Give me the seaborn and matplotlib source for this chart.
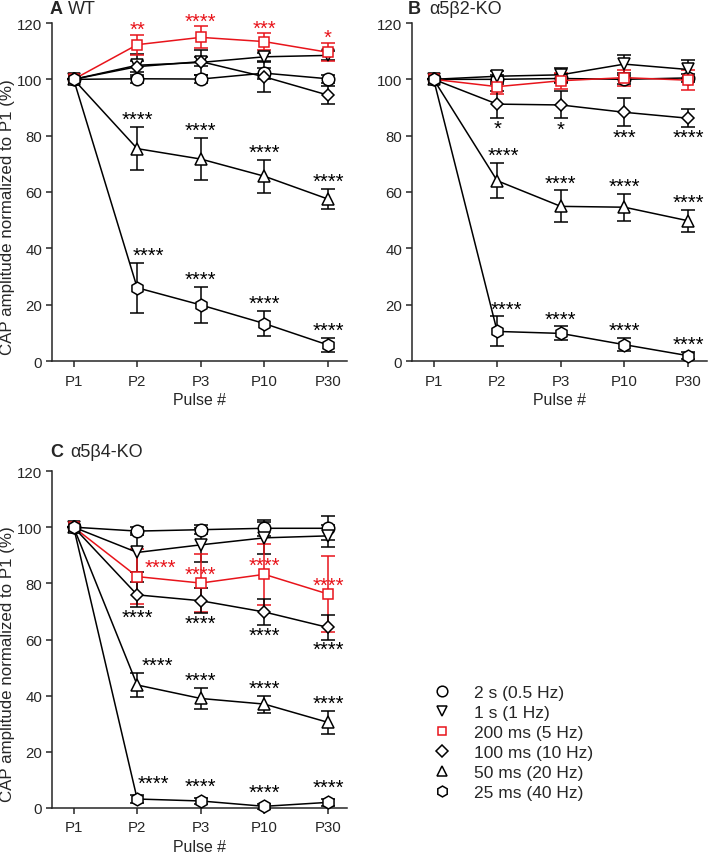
import numpy as np
import pandas as pd
import seaborn as sns
import matplotlib
matplotlib.use("Agg")
import matplotlib.pyplot as plt
from matplotlib.lines import Line2D

# ---------------- data ----------------
pulses = ["P1", "P2", "P3", "P10", "P30"]
series_labels = ["2 s (0.5 Hz)", "1 s (1 Hz)", "200 ms (5 Hz)",
                 "100 ms (10 Hz)", "50 ms (20 Hz)", "25 ms (40 Hz)"]

# Panel A: WT
wt_2s = [100, 100.2, 100.1, 102.2, 100.2]
wt_2s_err = [0, 1.5, 1.5, 2.0, 1.5]
wt_1s = [100, 105.0, 106.0, 108.0, 108.5]
wt_1s_err = [0, 4.0, 4.5, 1.5, 1.5]
wt_200ms = [100, 112.3, 114.9, 113.4, 109.6]
wt_200ms_err = [0, 3.5, 3.9, 2.9, 3.2]
wt_100ms = [100, 104.5, 106.3, 100.9, 94.4]
wt_100ms_err = [0, 2.0, 1.5, 5.3, 3.3]
wt_50ms = [100, 75.4, 71.7, 65.6, 57.5]
wt_50ms_err = [0, 7.6, 7.4, 5.8, 3.6]
wt_25ms = [100, 26.0, 19.9, 13.3, 5.7]
wt_25ms_err = [0, 8.8, 6.5, 4.5, 2.5]

# Panel B: a5b2-KO
b2_2s = [100, 100.0, 100.3, 100.0, 100.5]
b2_2s_err = [0, 1.5, 1.5, 1.5, 1.5]
b2_1s = [100, 101.1, 101.6, 105.4, 103.5]
b2_1s_err = [0, 2.0, 2.5, 3.2, 3.5]
b2_200ms = [100, 97.4, 99.5, 100.6, 99.7]
b2_200ms_err = [0, 2.5, 2.8, 2.8, 3.5]
b2_100ms = [100, 91.2, 90.9, 88.3, 86.2]
b2_100ms_err = [0, 4.8, 4.8, 5.0, 3.2]
b2_50ms = [100, 64.0, 54.9, 54.6, 49.8]
b2_50ms_err = [0, 6.3, 5.7, 4.8, 3.9]
b2_25ms = [100, 10.5, 9.8, 5.8, 1.9]
b2_25ms_err = [0, 5.3, 2.5, 2.3, 1.3]

# Panel C: a5b4-KO
b4_2s = [100, 98.6, 99.1, 99.6, 99.6]
b4_2s_err = [0, 1.4, 1.5, 2.8, 4.3]
b4_1s = [100, 91.0, 93.7, 96.2, 96.9]
b4_1s_err = [0, 7.0, 6.1, 5.7, 4.0]
b4_200ms = [100, 82.4, 80.1, 83.2, 76.2]
b4_200ms_err = [0, 9.7, 10.4, 10.8, 13.4]
b4_100ms = [100, 75.9, 73.8, 69.8, 64.3]
b4_100ms_err = [0, 4.5, 4.5, 4.6, 4.3]
b4_50ms = [100, 43.8, 39.0, 37.0, 30.5]
b4_50ms_err = [0, 4.2, 3.7, 3.0, 4.0]
b4_25ms = [100, 3.2, 2.5, 0.6, 2.0]
b4_25ms_err = [0, 1.5, 1.2, 0.8, 1.2]

# significance labels for P2, P3, P10, P30
wt_stars_200ms = ["**", "****", "***", "*"]
wt_stars_50ms = ["****", "****", "****", "****"]
wt_stars_25ms = ["****", "****", "****", "****"]
b2_stars_100ms = ["*", "*", "***", "****"]
b2_stars_50ms = ["****", "****", "****", "****"]
b2_stars_25ms = ["****", "****", "****", "****"]
b4_stars_200ms = ["****", "****", "****", "****"]
b4_stars_100ms = ["****", "****", "****", "****"]
b4_stars_50ms = ["****", "****", "****", "****"]
b4_stars_25ms = ["****", "****", "****", "****"]

# ---------------- style ----------------
sns.set_theme(style="ticks")
plt.rcParams["font.family"] = ["Liberation Sans", "DejaVu Sans"]
plt.rcParams["axes.linewidth"] = 1.1

RED = "#e8141b"
colors = ["black", "black", RED, "black", "black", "black"]
markers = ["o", "v", "s", "D", "^", "h"]
msizes = [9.0, 8.6, 7.6, 6.6, 8.6, 9.2]

W, H = 709, 854
fig = plt.figure(figsize=(W / 100, H / 100), dpi=100)


def add_ax(left, top, right, bottom):
    return fig.add_axes([left / W, 1 - bottom / H, (right - left) / W, (bottom - top) / H])


axA = add_ax(52, 24, 347, 362)
axB = add_ax(412, 24, 707, 362)
axC = add_ax(52, 472, 347, 809)

xpos = np.arange(len(pulses))
TICK_FS = 10.8


def draw_panel(ax, vals, errs):
    for i, (v, e) in enumerate(zip(vals, errs)):
        col = colors[i]
        ax.errorbar(xpos, v, yerr=e, fmt="none", ecolor=col, elinewidth=1.1,
                    capsize=4.8, capthick=1.1, zorder=2 + i * 0.01, clip_on=False)
        df = pd.DataFrame({"x": xpos, "y": v})
        sns.lineplot(data=df, x="x", y="y", ax=ax, color=col, marker=markers[i],
                     markersize=msizes[i], markerfacecolor="white",
                     markeredgecolor=col, markeredgewidth=1.1, linewidth=1.1,
                     zorder=3 + i * 0.01, clip_on=False, legend=False)
    ax.set_xlim(-0.34, 4.3)
    ax.set_ylim(0, 120)
    ax.set_xticks(xpos)
    ax.set_xticklabels(pulses, fontsize=TICK_FS)
    ax.set_yticks(np.arange(0, 121, 20))
    ax.tick_params(axis="y", labelsize=TICK_FS, length=4, width=1.1, pad=3, direction="out")
    ax.tick_params(axis="x", labelsize=TICK_FS, length=4, width=1.1, pad=5, direction="out")
    ax.set_xlabel("Pulse #", fontsize=11.4, labelpad=3)
    ax.set_ylabel("")
    sns.despine(ax=ax)


def stars(ax, vals, errs, labels, color="black", side="above", dx=None, off=3.0):
    for k, lab in enumerate(labels):
        j = k + 1
        shift = 0 if dx is None else dx[k]
        if side == "above":
            yc = vals[j] + errs[j] + off
        elif side == "below":
            yc = vals[j] - errs[j] - off
        else:  # near marker
            yc = vals[j] + off
        ax.text(xpos[j] + shift, yc - 2.3, lab, ha="center", va="baseline",
                fontsize=14.5, color=color, zorder=6)


draw_panel(axA, [wt_2s, wt_1s, wt_200ms, wt_100ms, wt_50ms, wt_25ms],
           [wt_2s_err, wt_1s_err, wt_200ms_err, wt_100ms_err, wt_50ms_err, wt_25ms_err])
stars(axA, wt_200ms, wt_200ms_err, wt_stars_200ms, color=RED, off=2.3)
stars(axA, wt_50ms, wt_50ms_err, wt_stars_50ms)
stars(axA, wt_25ms, wt_25ms_err, wt_stars_25ms, dx=[0.18, 0, 0, 0])

draw_panel(axB, [b2_2s, b2_1s, b2_200ms, b2_100ms, b2_50ms, b2_25ms],
           [b2_2s_err, b2_1s_err, b2_200ms_err, b2_100ms_err, b2_50ms_err, b2_25ms_err])
stars(axB, b2_100ms, b2_100ms_err, b2_stars_100ms, side="below", off=3.4)
stars(axB, b2_50ms, b2_50ms_err, b2_stars_50ms, dx=[0.1, 0, 0, 0])
stars(axB, b2_25ms, b2_25ms_err, b2_stars_25ms, dx=[0.15, 0, 0, 0])

draw_panel(axC, [b4_2s, b4_1s, b4_200ms, b4_100ms, b4_50ms, b4_25ms],
           [b4_2s_err, b4_1s_err, b4_200ms_err, b4_100ms_err, b4_50ms_err, b4_25ms_err])
stars(axC, b4_200ms, b4_200ms_err, b4_stars_200ms, color=RED, side="marker",
      dx=[0.37, 0, 0, 0], off=3.6)
stars(axC, b4_100ms, b4_100ms_err, b4_stars_100ms, side="below", off=3.3)
stars(axC, b4_50ms, b4_50ms_err, b4_stars_50ms, dx=[0.32, 0, 0, 0])
stars(axC, b4_25ms, b4_25ms_err, b4_stars_25ms, dx=[0.25, 0, 0, 0], off=4.5)

for ax in (axA, axC):
    ax.set_ylabel("CAP amplitude normalized to P1 (%)", fontsize=12.2)
    ax.yaxis.set_label_coords(-0.125, 0.43)

# panel titles
TFS = 13
fig.text(50 / W, 1 - 13.5 / H, "A", fontsize=TFS, fontweight="bold", va="baseline", ha="left")
fig.text(68 / W, 1 - 13.5 / H, "WT", fontsize=TFS, va="baseline", ha="left")
fig.text(408 / W, 1 - 13.5 / H, "B", fontsize=TFS, fontweight="bold", va="baseline", ha="left")
fig.text(429 / W, 1 - 13.5 / H, "\u03b15\u03b22-KO", fontsize=TFS, va="baseline", ha="left")
fig.text(50 / W, 1 - 457 / H, "C", fontsize=TFS, fontweight="bold", va="baseline", ha="left")
fig.text(70 / W, 1 - 457 / H, "\u03b15\u03b24-KO", fontsize=TFS, va="baseline", ha="left")

# legend
handles = [Line2D([], [], linestyle="none", marker=markers[i], markersize=msizes[i] * 0.85,
                  markerfacecolor="white", markeredgecolor=colors[i], markeredgewidth=1.1)
           for i in range(len(series_labels))]
fig.legend(handles, series_labels, loc="upper left", bbox_to_anchor=(435 / W, 1 - 686 / H),
           frameon=False, fontsize=12.5, handlelength=0.8, handletextpad=1.45,
           labelspacing=0.28, borderpad=0, borderaxespad=0)

fig.savefig("out.png", dpi=100)
